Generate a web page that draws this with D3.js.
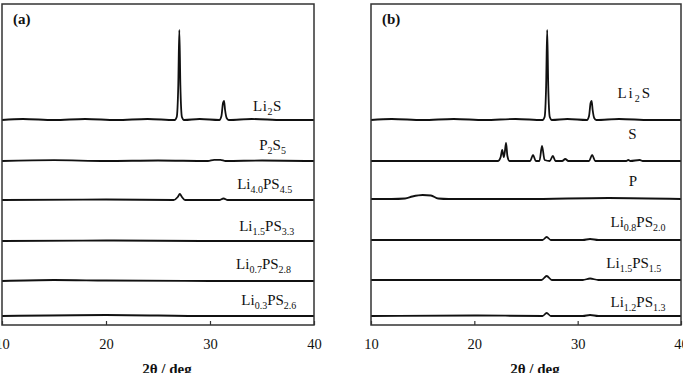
<!DOCTYPE html>
<html>
<meta charset="utf-8">
<style>
  body { margin: 0; background: #fff; }
  svg { display: block; }
  text { font-family: "Liberation Serif", "Times New Roman", serif; fill: #111; }
</style>

<body>
  <svg></svg>
</body>

<script src="https://d3js.org/d3.v7.min.js"></script>

<script>

  var W = 683, H = 373;

  // tick labels
  var ticks = [10, 20, 30, 40];

  // panel (a) : series labels (top to bottom) and stack offsets
  var labelsA = ["Li_{2}S", "P_{2}S_{5}", "Li_{4.0}PS_{4.5}", "Li_{1.5}PS_{3.3}", "Li_{0.7}PS_{2.8}", "Li_{0.3}PS_{2.6}"];
  var offsetsA = [196, 155, 116, 75, 35, 0];

  // panel (b)
  var labelsB = ["Li_{2}S", "S", "P", "Li_{0.8}PS_{2.0}", "Li_{1.5}PS_{1.5}", "Li_{1.2}PS_{1.3}"];
  var offsetsB = [196, 155, 117, 76, 36, 0];

  // [2theta, intensity]
  var li2s = [[10,0],[12,1],[15,0],[18,1],[21,0],[24,1],[26.6,0],[26.8,3],[26.95,35],[27.05,90],[27.15,35],[27.3,3],[27.5,0],
    [29,1],[30.9,0],[31.1,4],[31.25,17],[31.35,19],[31.45,10],[31.6,2],[31.8,0],[34,1],[37,0],[40,0]];
  var p2s5 = [[10,0],[15,0.8],[20,0],[25,0.5],[29.8,0],[30.4,1.2],[31,1.2],[31.5,0],[35,0.5],[40,0]];
  var li40 = [[10,0],[20,0.5],[26.5,0],[26.9,3],[27.1,6],[27.3,3],[27.6,0],[30.9,0],[31.3,1.5],[31.7,0],[40,0]];
  var li15a = [[10,0],[20,0.5],[30,0],[40,0]];
  var li07 = [[10,0],[15,1],[20,0.5],[30,0],[40,0]];
  var li03 = [[10,0],[20,1],[30,0],[40,0]];

  var sulfur = [[10,0],[20,0],[22.3,0],[22.55,4],[22.7,11],[22.85,4],[22.95,9],[23.07,18],[23.2,5],[23.4,0],
    [25.4,0],[25.68,6],[25.95,0],[26.3,0],[26.55,15],[26.8,1],[27.3,0],[27.6,5],[27.85,0],[28.5,0],[28.8,2],[29.1,0],
    [31.1,0],[31.4,6],[31.7,0],[34.7,0],[34.9,1],[35.1,0],[36,1],[36.3,0],[40,0]];
  var phos = [[10,0],[12,0],[13.3,0.5],[14,2.5],[15,4],[15.8,3.5],[16.5,0.5],[17.5,0],[25,0],[33,1],[40,0]];
  var li08 = [[10,0],[26.6,0],[27,3],[27.4,0],[30.5,0],[31.2,1],[32,0],[40,0]];
  var li15b = [[10,0],[26.5,0],[27,4],[27.5,0],[30.5,0],[31.2,1.5],[32,0],[40,0]];
  var li12 = [[10,0],[20,0.5],[26.6,0],[27,3],[27.4,0],[30.5,0],[31.2,1],[32,0],[40,0]];

  var seriesA = [li2s, p2s5, li40, li15a, li07, li03];
  var seriesB = [li2s, sulfur, phos, li08, li15b, li12];

  // label placement: [2theta of right end, lift above trace in px, letter spacing]
  var labelPosA = [[36.9, 9, 0.5], [37.3, 11, 0], [37.9, 11, 0], [38.1, 10, 0], [37.8, 12, 0], [38.3, 11, 0]];
  var labelPosB = [[37.2, 22, 2], [35.7, 22, 0], [35.75, 13, 0], [38.5, 13, 0], [38.1, 12, 0], [38.5, 9, 0]];

  var svg = d3.select("svg").attr("width", W).attr("height", H);

  var plotTop = 4, plotBottom = 325;
  var y = d3.scaleLinear().domain([-9, 312]).range([plotBottom, plotTop]);

  function drawPanel(x0, x1, title, labels, offsets, series, labelPos) {
    var x = d3.scaleLinear().domain([10, 40]).range([x0, x1]);
    var g = svg.append("g");

    var line = d3.line()
      .x(d => x(d[0]))
      .y(d => y(d[1]))
      .curve(d3.curveMonotoneX);

    series.forEach(function (s, i) {
      g.append("path")
        .datum(s.map(d => [d[0], d[1] + offsets[i]]))
        .attr("d", line)
        .attr("fill", "none")
        .attr("stroke", "#111")
        .attr("stroke-width", 1.8);
    });

    // frame
    g.append("rect")
      .attr("x", x0).attr("y", plotTop)
      .attr("width", x1 - x0).attr("height", plotBottom - plotTop)
      .attr("fill", "none")
      .attr("stroke", "#333")
      .attr("stroke-width", 1.5);

    var axis = d3.axisBottom(x).tickValues(ticks).tickSize(-4).tickPadding(14).tickFormat(d3.format("d"));
    var ax = g.append("g")
      .attr("transform", "translate(0," + plotBottom + ")")
      .call(axis);
    ax.select(".domain").remove();
    ax.selectAll("line").attr("stroke", "#333").attr("stroke-width", 1.2);
    ax.selectAll("text")
      .style("font-family", '"Liberation Serif", serif')
      .style("font-size", "14.5px")
      .attr("fill", "#111");

    // series labels with subscripts
    labels.forEach(function (lab, i) {
      var t = g.append("text")
        .attr("text-anchor", "end")
        .attr("x", x(labelPos[i][0]))
        .attr("y", y(offsets[i]) - labelPos[i][1])
        .style("font-size", "15px")
        .style("letter-spacing", labelPos[i][2] + "px");
      var parts = lab.split(/(_\{[^}]*\})/).filter(p => p.length);
      var sub = false;
      parts.forEach(function (p) {
        if (p[0] === "_") {
          t.append("tspan").attr("dy", sub ? 0 : 4).style("font-size", "10px").text(p.slice(2, -1));
          sub = true;
        } else {
          t.append("tspan").attr("dy", sub ? -4 : 0).text(p);
          sub = false;
        }
      });
    });

    g.append("text")
      .attr("x", x0 + 11).attr("y", 24)
      .style("font-size", "15px").style("font-weight", "bold")
      .text(title);

    g.append("text")
      .attr("text-anchor", "middle")
      .attr("x", x(25) + 9).attr("y", 374)
      .style("font-size", "15px").style("font-weight", "bold")
      .text("2θ / deg");
  }

  drawPanel(2, 314, "(a)", labelsA, offsetsA, seriesA, labelPosA);
  drawPanel(371, 681, "(b)", labelsB, offsetsB, seriesB, labelPosB);

</script>

</html>
